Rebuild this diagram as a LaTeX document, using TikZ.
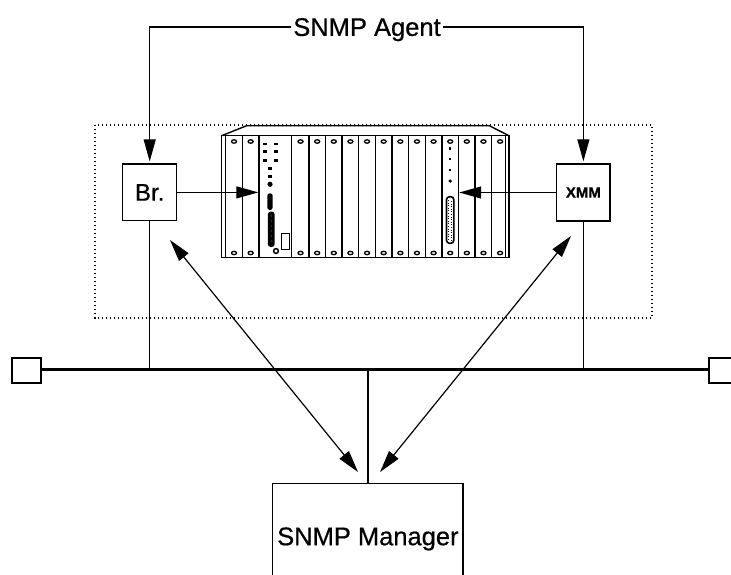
\documentclass[tikz,border=0pt]{standalone}
\usepackage{fontspec}
\setmainfont{Liberation Sans}[FakeBold=0.6]
\usetikzlibrary{arrows.meta}
\begin{document}
\begin{tikzpicture}[x=1pt,y=-1pt,
  thinline/.style={line width=1.2pt},
  box/.style={draw, line width=1.3pt, inner sep=0pt, fill=white},
  bigtext/.style={font=\fontsize{25.5}{30}\selectfont},
  headarrow/.style={-{Triangle[length=22pt,width=12pt]}},
  twoheads/.style={{Triangle[length=22pt,width=12pt]}-{Triangle[length=22pt,width=12pt]}},
  screw/.style={draw, line width=1.3pt, fill=white},
  endsq/.style={draw, line width=2pt, minimum width=29pt, minimum height=25.6pt, inner sep=0pt, fill=white},
  slotline/.style={line width=1.4pt},
]
\useasboundingbox (0,0) rectangle (731,574);
\clip (0,0) rectangle (731,574);

% agent enclosure (dotted)
\draw[line width=1.4pt, dash pattern=on 1.4pt off 2.6pt] (95,125) rectangle (652,318);

% ---------------- chassis ----------------
\draw[line width=1.4pt] (221.7,135.7) -- (246.7,125.7) -- (489.3,125.7) -- (509,135.7);
\draw[line width=1.5pt] (221.7,135.7) rectangle (509,257.7);
\draw[line width=0.9pt] (225.7,135.7) -- (225.7,257.7);
\draw[line width=0.9pt] (505.5,135.7) -- (505.5,257.7);
\foreach \i in {1,5,6,...,12,14,15,16}
  \draw[slotline] ({225.7+\i*16.63},135.7) -- ({225.7+\i*16.63},257.7);
% card slots carrying the two modules
\node[draw, line width=1.4pt, minimum width=32.6pt, minimum height=122pt, inner sep=0pt]
  (mod) at (275.3,196.7) {};
\node[draw, line width=1.4pt, minimum width=16.63pt, minimum height=122pt, inner sep=0pt]
  (ledmod) at (450.2,196.7) {};
% thumb screws
\foreach \i in {0,1,4,5,...,16} {
  \draw[screw] ({225.7+(\i+0.5)*16.63},141.5) ellipse [x radius=2.5pt, y radius=1.7pt];
  \draw[screw] ({225.7+(\i+0.5)*16.63},253) ellipse [x radius=2.5pt, y radius=1.7pt];
}
% front panel of the wide module
\foreach \yy in {144,151.7,160.7} {
  \fill (262.8,\yy-1.3) rectangle (267.3,\yy+1.3);
  \fill (273.8,\yy-1.3) rectangle (278.3,\yy+1.3);
}
\foreach \yy in {168.3,176.7}
  \fill (267.8,\yy-1.3) rectangle (272.3,\yy+1.3);
\fill (270,184.3) circle (2.6pt);
\fill[rounded corners=2.5pt] (267.3,193.3) rectangle (272.7,210);
\fill[rounded corners=3pt] (267.8,211.5) rectangle (274.7,247);
\foreach \yy in {216,221,...,243}
  \fill[white] (271.2,\yy) circle (0.45pt);
\draw[line width=1.9pt] (281.5,233.5) rectangle (289.5,249.5);
\draw[screw, line width=1.5pt] (276,251) circle (2.4pt);
% front panel of the LED module
\foreach \yy in {148.3,159,170}
  \fill (449,\yy-1.2) rectangle (451.4,\yy+1.2);
\fill (450.2,181) circle (1.8pt);
\draw[line width=1.6pt, rounded corners=3pt] (446.5,196.7) rectangle (453.8,243.3);
\draw[line width=0.8pt, dash pattern=on 1pt off 1.6pt] (448.7,200) -- (448.7,240);
\draw[line width=0.8pt, dash pattern=on 1pt off 1.6pt] (451.6,201) -- (451.6,241);

% ---------------- boxes ----------------
\node[box, minimum width=54pt, minimum height=56.7pt, font=\fontsize{24}{28}\selectfont]
  (br) at (149.7,192.4) {Br.};
\node[box, minimum width=53.3pt, minimum height=57pt, font=\bfseries\fontsize{15}{18}\selectfont]
  (xmm) at (583.4,192.5) {XMM};
\node[box, minimum width=190.3pt, minimum height=106pt, bigtext, text depth=0pt]
  (mgr) at (367.9,536.3) {SNMP Manager};

% ---------------- LAN bus ----------------
\node[endsq] (lsq) at (26.2,370.5) {};
\node[endsq] (rsq) at (723.5,370.5) {};
\coordinate (busl) at (40.7,369.3);
\draw[line width=3.6pt] (busl) -- (busl -| rsq.west);
\draw[thinline] (br.south) -- (br.south |- busl);
\draw[thinline] (xmm.south) -- (xmm.south |- busl);
\draw[thinline] (mgr.north |- busl) -- (mgr.north);

% ---------------- SNMP agent label ----------------
\node[bigtext, text depth=0pt, inner sep=2pt] (agent) at (367,27) {SNMP Agent};
\draw[thinline, headarrow, shorten >=2pt] (agent.west) -| (br.north);
\draw[thinline, headarrow, shorten >=2pt] (agent.east) -| (xmm.north);

% management access to the chassis
\draw[thinline, headarrow] (br.east) -- (br.east -| mod.west);
\draw[thinline, headarrow] (xmm.west) -- (xmm.west -| ledmod.east);

% SNMP traffic between manager and agents
\coordinate (brtip) at (170,240);
\coordinate (xmmtip) at (571,236);
\coordinate (mgrl) at (358,472);
\coordinate (mgrr) at (380,472);
\draw[thinline, twoheads] (brtip) -- (mgrl);
\draw[thinline, twoheads] (xmmtip) -- (mgrr);
\end{tikzpicture}
\end{document}
